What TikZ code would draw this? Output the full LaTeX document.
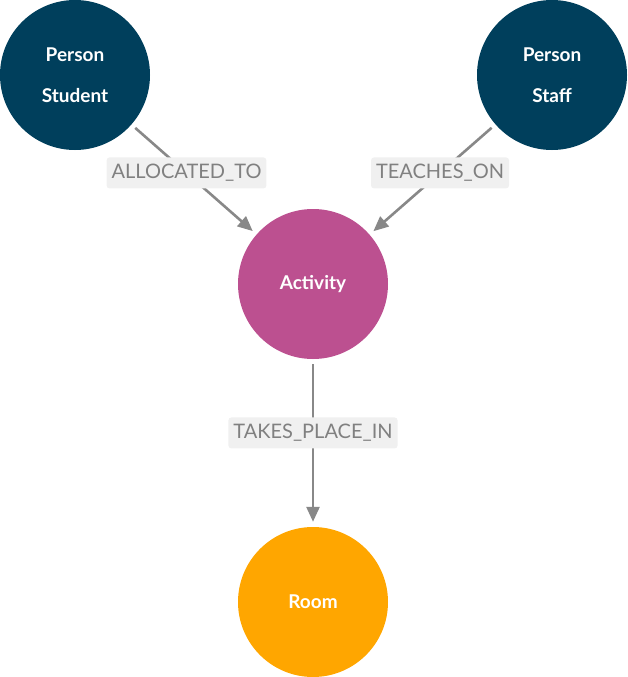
\documentclass[tikz,border=0pt]{standalone}
\usepackage{fontspec}
\setmainfont{Lato}
\usetikzlibrary{arrows.meta}
\definecolor{nodeblue}{HTML}{003F5C}
\definecolor{nodepink}{HTML}{BC5090}
\definecolor{nodeorange}{HTML}{FFA600}
\definecolor{edgegray}{HTML}{888888}
\definecolor{labelgray}{HTML}{808080}
\definecolor{labelfill}{HTML}{F0F0F0}
\tikzset{
    entity/.style={circle,minimum size=150pt,inner sep=0pt,text=white,
        font=\fontsize{19}{41}\selectfont\bfseries,align=center},
    rel/.style={draw=edgegray,line width=2.6pt,shorten <=5pt,shorten >=5pt,
        -{Triangle[length=15pt,width=13pt]}},
    rellabel/.style={fill=labelfill,text=labelgray,rounded corners=3pt,
        font=\fontsize{20}{20}\selectfont,inner xsep=5pt,inner ysep=0pt,
        minimum height=31pt,pos=0.44},
}

\begin{document}
\begin{tikzpicture}[x=1pt,y=-1pt]
            \useasboundingbox (0,0) rectangle (628,677);
            \node[entity,fill=nodeblue] (student) at (75,75) {Person\\Student};
            \node[entity,fill=nodeblue] (staff) at (552,75) {Person\\Staff};
            \node[entity,fill=nodepink] (activity) at (313,284) {Activity};
            \node[entity,fill=nodeorange] (room) at (313,602) {Room};
            \draw[rel] (student) -- node[rellabel] {ALLOCATED\_TO} (activity);
            \draw[rel] (staff) -- node[rellabel] {TEACHES\_ON} (activity);
            \draw[rel] (activity) -- node[rellabel] {TAKES\_PLACE\_IN} (room);
        \end{tikzpicture}
\end{document}
